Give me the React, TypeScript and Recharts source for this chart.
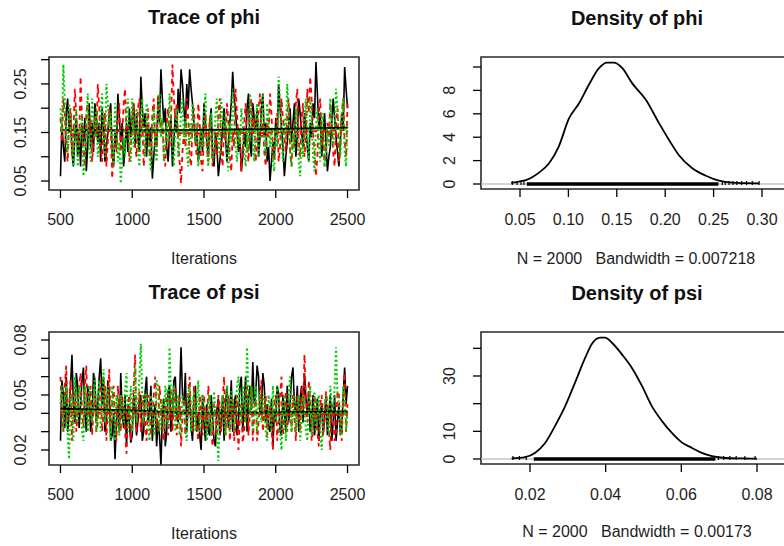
import React from 'react';
import { ComposedChart, Line, XAxis, YAxis, ReferenceArea, ReferenceLine, Scatter } from 'recharts';

const FONT = '"Liberation Sans", Arial, Helvetica, sans-serif';
const TXT = '#1e1e1e';

// ---------- trace data (main values every 20 iterations from 500; "Mid" values at 510, 530, ...) ----------
const ITER_START = 500;
const ITER_STEP = 10;

const phiChain1 = [
  0.06, 0.12, 0.19, 0.15, 0.11, 0.14, 0.10, 0.08, 0.13, 0.07,
  0.21, 0.17, 0.21, 0.13, 0.09, 0.16, 0.12, 0.19, 0.11, 0.15,
  0.23, 0.13, 0.08, 0.17, 0.20, 0.18, 0.12, 0.14, 0.265, 0.16,
  0.10, 0.13, 0.055, 0.14, 0.22, 0.28, 0.17, 0.12, 0.15, 0.08,
  0.19, 0.24, 0.28, 0.20, 0.25, 0.28, 0.21, 0.13, 0.09, 0.15,
  0.21, 0.13, 0.17, 0.10, 0.15, 0.06, 0.12, 0.20, 0.09, 0.17,
  0.275, 0.19, 0.11, 0.07, 0.15, 0.20, 0.13, 0.21, 0.16, 0.10,
  0.20, 0.14, 0.09, 0.05, 0.13, 0.18, 0.25, 0.16, 0.06, 0.13,
  0.20, 0.17, 0.10, 0.22, 0.15, 0.19, 0.12, 0.17, 0.21, 0.295,
  0.16, 0.10, 0.19, 0.07, 0.12, 0.22, 0.14, 0.08, 0.19, 0.285,
  0.20,
];
const phiChain1Mid = [
  0.17, 0.09, 0.22, 0.19, 0.08, 0.18, 0.15, 0.17, 0.18, 0.12,
  0.12, 0.11, 0.18, 0.17, 0.20, 0.09, 0.15, 0.21, 0.08, 0.12,
  0.18, 0.17, 0.12, 0.11, 0.14, 0.21, 0.19, 0.11, 0.20, 0.19,
  0.17, 0.16, 0.10, 0.12, 0.17, 0.22, 0.20, 0.09, 0.18, 0.13,
  0.15, 0.19, 0.25, 0.16, 0.20, 0.24, 0.17, 0.16, 0.12, 0.11,
  0.17, 0.10, 0.20, 0.08, 0.12, 0.09, 0.16, 0.14, 0.13, 0.21,
  0.22, 0.15, 0.14, 0.10, 0.12, 0.23, 0.10, 0.18, 0.20, 0.14,
  0.23, 0.17, 0.12, 0.09, 0.10, 0.14, 0.20, 0.12, 0.10, 0.17,
  0.13, 0.21, 0.14, 0.19, 0.12, 0.16, 0.09, 0.14, 0.18, 0.23,
  0.19, 0.15, 0.13, 0.10, 0.17, 0.18, 0.11, 0.13, 0.16, 0.24,
];
const phiChain2 = [
  0.18, 0.22, 0.12, 0.17, 0.10, 0.24, 0.14, 0.265, 0.11, 0.19,
  0.15, 0.09, 0.18, 0.25, 0.12, 0.16, 0.08, 0.20, 0.055, 0.14,
  0.18, 0.11, 0.21, 0.15, 0.09, 0.17, 0.12, 0.20, 0.14, 0.08,
  0.16, 0.11, 0.19, 0.13, 0.23, 0.15, 0.10, 0.17, 0.12, 0.29,
  0.18, 0.13, 0.045, 0.15, 0.22, 0.10, 0.17, 0.13, 0.21, 0.09,
  0.15, 0.12, 0.18, 0.08, 0.14, 0.19, 0.11, 0.16, 0.21, 0.10,
  0.15, 0.24, 0.13, 0.07, 0.17, 0.12, 0.19, 0.15, 0.09, 0.20,
  0.14, 0.11, 0.18, 0.23, 0.12, 0.16, 0.09, 0.22, 0.14, 0.19,
  0.11, 0.16, 0.21, 0.13, 0.18, 0.10, 0.24, 0.265, 0.15, 0.06,
  0.19, 0.12, 0.08, 0.17, 0.21, 0.11, 0.16, 0.09, 0.19, 0.13,
  0.21,
];
const phiChain2Mid = [
  0.13, 0.19, 0.09, 0.20, 0.15, 0.19, 0.12, 0.18, 0.08, 0.21,
  0.18, 0.13, 0.14, 0.20, 0.09, 0.19, 0.13, 0.16, 0.10, 0.11,
  0.21, 0.14, 0.24, 0.17, 0.12, 0.21, 0.10, 0.22, 0.18, 0.12,
  0.20, 0.09, 0.22, 0.11, 0.19, 0.18, 0.08, 0.20, 0.17, 0.22,
  0.21, 0.09, 0.11, 0.12, 0.18, 0.08, 0.20, 0.10, 0.17, 0.07,
  0.19, 0.09, 0.14, 0.11, 0.10, 0.22, 0.08, 0.13, 0.17, 0.07,
  0.12, 0.19, 0.16, 0.11, 0.21, 0.09, 0.22, 0.18, 0.13, 0.23,
  0.17, 0.08, 0.14, 0.19, 0.09, 0.19, 0.12, 0.18, 0.11, 0.22,
  0.08, 0.12, 0.24, 0.10, 0.21, 0.14, 0.19, 0.22, 0.11, 0.10,
  0.22, 0.15, 0.11, 0.13, 0.17, 0.08, 0.20, 0.12, 0.22, 0.10,
];
const phiChain3 = [
  0.20, 0.29, 0.14, 0.21, 0.11, 0.17, 0.08, 0.15, 0.06, 0.18,
  0.12, 0.22, 0.14, 0.10, 0.19, 0.13, 0.25, 0.16, 0.11, 0.21,
  0.09, 0.045, 0.14, 0.19, 0.12, 0.22, 0.16, 0.11, 0.18, 0.13,
  0.21, 0.10, 0.16, 0.12, 0.20, 0.14, 0.09, 0.17, 0.23, 0.12,
  0.16, 0.10, 0.19, 0.14, 0.11, 0.17, 0.21, 0.13, 0.08, 0.16,
  0.20, 0.11, 0.15, 0.09, 0.19, 0.13, 0.22, 0.14, 0.10, 0.17,
  0.24, 0.12, 0.16, 0.20, 0.11, 0.15, 0.23, 0.13, 0.17, 0.10,
  0.19, 0.14, 0.21, 0.12, 0.09, 0.16, 0.265, 0.13, 0.18, 0.25,
  0.11, 0.15, 0.20, 0.09, 0.14, 0.18, 0.12, 0.22, 0.10, 0.16,
  0.13, 0.19, 0.08, 0.15, 0.22, 0.12, 0.24, 0.14, 0.18, 0.11,
  0.17,
];
const phiChain3Mid = [
  0.15, 0.22, 0.11, 0.18, 0.08, 0.20, 0.12, 0.19, 0.10, 0.23,
  0.09, 0.18, 0.20, 0.13, 0.23, 0.10, 0.21, 0.19, 0.08, 0.16,
  0.13, 0.09, 0.10, 0.22, 0.09, 0.12, 0.20, 0.08, 0.22, 0.10,
  0.17, 0.07, 0.20, 0.09, 0.23, 0.18, 0.12, 0.13, 0.18, 0.08,
  0.20, 0.13, 0.22, 0.18, 0.08, 0.13, 0.17, 0.17, 0.11, 0.12,
  0.23, 0.08, 0.19, 0.12, 0.22, 0.10, 0.18, 0.19, 0.07, 0.13,
  0.19, 0.09, 0.12, 0.17, 0.08, 0.11, 0.19, 0.09, 0.21, 0.13,
  0.23, 0.10, 0.18, 0.16, 0.07, 0.12, 0.21, 0.09, 0.14, 0.19,
  0.08, 0.11, 0.16, 0.06, 0.10, 0.22, 0.09, 0.18, 0.07, 0.20,
  0.09, 0.17, 0.11, 0.12, 0.18, 0.16, 0.20, 0.10, 0.22, 0.08,
];

const psiChain1 = [
  0.025, 0.05, 0.06, 0.04, 0.072, 0.035, 0.055, 0.045, 0.065, 0.03,
  0.05, 0.038, 0.058, 0.045, 0.07, 0.06, 0.035, 0.05, 0.028, 0.015,
  0.045, 0.062, 0.032, 0.022, 0.035, 0.028, 0.042, 0.036, 0.05, 0.03,
  0.06, 0.04, 0.025, 0.045, 0.035, 0.012, 0.048, 0.03, 0.055, 0.04,
  0.06, 0.035, 0.076, 0.045, 0.03, 0.05, 0.025, 0.055, 0.04, 0.02,
  0.035, 0.045, 0.028, 0.038, 0.022, 0.048, 0.035, 0.025, 0.055, 0.04,
  0.03, 0.05, 0.035, 0.06, 0.045, 0.03, 0.055, 0.068, 0.05, 0.06,
  0.04, 0.055, 0.045, 0.03, 0.022, 0.035, 0.05, 0.028, 0.04, 0.055,
  0.045, 0.065, 0.04, 0.03, 0.055, 0.062, 0.04, 0.03, 0.05, 0.035,
  0.025, 0.045, 0.038, 0.028, 0.05, 0.035, 0.025, 0.045, 0.032, 0.065,
  0.055,
];
const psiChain1Mid = [
  0.058, 0.032, 0.03, 0.055, 0.045, 0.062, 0.032, 0.058, 0.04, 0.055,
  0.03, 0.062, 0.035, 0.06, 0.045, 0.03, 0.058, 0.025, 0.04, 0.035,
  0.03, 0.04, 0.05, 0.045, 0.024, 0.05, 0.028, 0.048, 0.025, 0.052,
  0.035, 0.055, 0.04, 0.022, 0.028, 0.038, 0.022, 0.052, 0.03, 0.058,
  0.04, 0.05, 0.05, 0.062, 0.045, 0.032, 0.048, 0.03, 0.028, 0.05,
  0.025, 0.03, 0.05, 0.025, 0.042, 0.028, 0.05, 0.045, 0.032, 0.058,
  0.045, 0.028, 0.055, 0.03, 0.06, 0.048, 0.042, 0.045, 0.066, 0.04,
  0.062, 0.035, 0.032, 0.048, 0.04, 0.055, 0.03, 0.05, 0.03, 0.035,
  0.06, 0.045, 0.055, 0.048, 0.035, 0.048, 0.052, 0.035, 0.028, 0.048,
  0.04, 0.028, 0.05, 0.04, 0.025, 0.05, 0.035, 0.028, 0.05, 0.045,
];
const psiChain2 = [
  0.06, 0.03, 0.066, 0.045, 0.025, 0.055, 0.04, 0.062, 0.032, 0.066,
  0.045, 0.028, 0.05, 0.035, 0.058, 0.04, 0.025, 0.064, 0.045, 0.035,
  0.055, 0.03, 0.04, 0.018, 0.05, 0.035, 0.072, 0.04, 0.03, 0.05,
  0.025, 0.045, 0.035, 0.06, 0.03, 0.045, 0.025, 0.05, 0.038, 0.03,
  0.055, 0.04, 0.022, 0.048, 0.035, 0.06, 0.03, 0.045, 0.025, 0.04,
  0.05, 0.03, 0.045, 0.022, 0.038, 0.05, 0.03, 0.06, 0.04, 0.025,
  0.048, 0.035, 0.02, 0.045, 0.03, 0.055, 0.04, 0.025, 0.05, 0.035,
  0.058, 0.04, 0.028, 0.045, 0.02, 0.05, 0.035, 0.06, 0.04, 0.03,
  0.045, 0.05, 0.025, 0.04, 0.055, 0.072, 0.035, 0.048, 0.03, 0.04,
  0.022, 0.05, 0.035, 0.045, 0.02, 0.04, 0.03, 0.05, 0.025, 0.062,
  0.045,
];
const psiChain2Mid = [
  0.04, 0.055, 0.035, 0.058, 0.045, 0.03, 0.055, 0.042, 0.055, 0.035,
  0.055, 0.042, 0.03, 0.05, 0.03, 0.055, 0.045, 0.032, 0.055, 0.025,
  0.04, 0.05, 0.03, 0.045, 0.025, 0.055, 0.03, 0.052, 0.04, 0.035,
  0.05, 0.028, 0.05, 0.04, 0.055, 0.032, 0.045, 0.028, 0.052, 0.045,
  0.028, 0.05, 0.038, 0.028, 0.05, 0.038, 0.055, 0.032, 0.05, 0.028,
  0.038, 0.055, 0.03, 0.045, 0.028, 0.042, 0.048, 0.028, 0.05, 0.042,
  0.025, 0.05, 0.038, 0.024, 0.05, 0.028, 0.055, 0.038, 0.025, 0.046,
  0.03, 0.05, 0.038, 0.032, 0.045, 0.025, 0.05, 0.028, 0.052, 0.04,
  0.03, 0.038, 0.05, 0.03, 0.042, 0.048, 0.058, 0.025, 0.05, 0.03,
  0.045, 0.028, 0.052, 0.03, 0.045, 0.025, 0.052, 0.035, 0.05, 0.03,
];
const psiChain3 = [
  0.045, 0.03, 0.055, 0.015, 0.04, 0.06, 0.035, 0.05, 0.025, 0.045,
  0.055, 0.035, 0.06, 0.04, 0.03, 0.064, 0.045, 0.035, 0.055, 0.025,
  0.04, 0.05, 0.035, 0.062, 0.04, 0.03, 0.066, 0.045, 0.078, 0.035,
  0.05, 0.025, 0.045, 0.035, 0.055, 0.04, 0.03, 0.05, 0.076, 0.04,
  0.03, 0.05, 0.035, 0.045, 0.025, 0.055, 0.04, 0.03, 0.058, 0.035,
  0.045, 0.025, 0.05, 0.035, 0.04, 0.014, 0.045, 0.035, 0.055, 0.03,
  0.045, 0.038, 0.06, 0.035, 0.05, 0.076, 0.04, 0.03, 0.055, 0.045,
  0.035, 0.05, 0.025, 0.04, 0.055, 0.035, 0.045, 0.02, 0.05, 0.035,
  0.06, 0.04, 0.03, 0.05, 0.035, 0.045, 0.025, 0.055, 0.04, 0.03,
  0.05, 0.02, 0.045, 0.035, 0.055, 0.04, 0.076, 0.045, 0.03, 0.05,
  0.04,
];
const psiChain3Mid = [
  0.055, 0.045, 0.028, 0.05, 0.025, 0.042, 0.055, 0.03, 0.055, 0.03,
  0.04, 0.05, 0.03, 0.058, 0.045, 0.035, 0.055, 0.025, 0.045, 0.05,
  0.028, 0.04, 0.052, 0.03, 0.055, 0.042, 0.035, 0.06, 0.045, 0.05,
  0.035, 0.05, 0.028, 0.058, 0.03, 0.048, 0.055, 0.032, 0.05, 0.055,
  0.045, 0.028, 0.05, 0.03, 0.05, 0.03, 0.052, 0.045, 0.03, 0.05,
  0.035, 0.045, 0.028, 0.052, 0.028, 0.035, 0.05, 0.028, 0.042, 0.052,
  0.03, 0.055, 0.04, 0.055, 0.035, 0.05, 0.055, 0.045, 0.03, 0.052,
  0.045, 0.03, 0.05, 0.03, 0.04, 0.055, 0.03, 0.045, 0.025, 0.052,
  0.03, 0.05, 0.045, 0.025, 0.05, 0.03, 0.045, 0.028, 0.052, 0.045,
  0.03, 0.038, 0.05, 0.028, 0.045, 0.055, 0.05, 0.028, 0.055, 0.03,
];

// smoothed (lowess) lines
const smoothIters = [500, 1000, 1500, 2000, 2500];
const phiSmooth1 = [0.155, 0.154, 0.155, 0.157, 0.160];
const phiSmooth2 = [0.155, 0.152, 0.148, 0.150, 0.155];
const phiSmooth3 = [0.156, 0.153, 0.152, 0.154, 0.157];
const psiSmooth1 = [0.0425, 0.0415, 0.0400, 0.0405, 0.0410];
const psiSmooth2 = [0.0410, 0.0400, 0.0395, 0.0395, 0.0395];
const psiSmooth3 = [0.0415, 0.0410, 0.0400, 0.0400, 0.0405];

// ---------- density data ----------
const phiDensX = [0.041, 0.050, 0.056, 0.063, 0.0696, 0.080, 0.090, 0.1006, 0.111, 0.121, 0.1316, 0.140, 0.147, 0.1557, 0.166, 0.180, 0.1936, 0.204, 0.214, 0.228, 0.242, 0.2556, 0.269, 0.283, 0.297];
const phiDensY = [0.1, 0.22, 0.34, 0.6, 0.97, 1.77, 3.2, 5.6, 6.9, 8.46, 9.9, 10.37, 10.37, 9.9, 8.6, 7.2, 5.2, 3.76, 2.48, 1.34, 0.71, 0.28, 0.11, 0.07, 0.05];
const phiRugBand = [0.057, 0.255];
const phiRugTail = [0.042, 0.047, 0.051, 0.054, 0.259, 0.262, 0.266, 0.27, 0.274, 0.279, 0.284, 0.29, 0.297];

const psiDensX = [0.01515, 0.0187, 0.0213, 0.024, 0.0266, 0.0293, 0.0319, 0.0346, 0.0363, 0.0385, 0.0399, 0.0416, 0.0443, 0.0469, 0.0496, 0.0522, 0.0549, 0.0575, 0.0601, 0.0628, 0.0654, 0.0681, 0.0716, 0.076, 0.080];
const psiDensY = [0.24, 0.7, 2.2, 5.8, 11.9, 19.1, 27.6, 36.6, 41.5, 43.9, 43.9, 42.1, 37.8, 33.0, 26.4, 19.1, 13.7, 9.4, 6.0, 4.0, 2.2, 1.0, 0.36, 0.2, 0.1];
const psiRugBand = [0.021, 0.069];
const psiRugTail = [0.0155, 0.0172, 0.019, 0.0698, 0.0712, 0.0728, 0.0745, 0.0768, 0.0795];

// ---------- ticks ----------
const traceXTicks = [500, 1000, 1500, 2000, 2500];
const phiTraceYTicks = [0.05, 0.10, 0.15, 0.20, 0.25, 0.30];
const phiTraceYLabels = [0.05, 0.15, 0.25];
const psiTraceYTicks = [0.02, 0.03, 0.04, 0.05, 0.06, 0.07, 0.08];
const psiTraceYLabels = [0.02, 0.05, 0.08];
const phiDensXTicks = [0.05, 0.10, 0.15, 0.20, 0.25, 0.30];
const phiDensYTicks = [0, 2, 4, 6, 8, 10];
const phiDensYLabels = [0, 2, 4, 6, 8];
const psiDensXTicks = [0.02, 0.04, 0.06, 0.08];
const psiDensYTicks = [0, 10, 20, 30, 40];
const psiDensYLabels = [0, 10, 30];

const titles = ['Trace of phi', 'Density of phi', 'Trace of psi', 'Density of psi'];
const xLabels = ['Iterations', 'N = 2000   Bandwidth = 0.007218', 'Iterations', 'N = 2000   Bandwidth = 0.00173'];

// ---------- helpers ----------
const tracePts = (main: number[], mid: number[]) =>
  main
    .flatMap((v, i) => (i < mid.length ? [v, mid[i]] : [v]))
    .map((y, i) => ({ x: ITER_START + i * ITER_STEP, y }));
const smoothPts = (vals: number[]) => vals.map((y, i) => ({ x: smoothIters[i], y }));
const zipPts = (xs: number[], ys: number[]) => xs.map((x, i) => ({ x, y: ys[i] }));
const rugPts = (xs: number[]) => xs.map((x) => ({ x, y: 0 }));

const has = (arr: number[], v: number) => arr.some((a) => Math.abs(a - v) < 1e-9);

type PanelProps = {
  left: number; top: number; width: number; height: number;
  box: [number, number, number, number];
  xDomain: [number, number]; yDomain: [number, number];
  xTicks: number[]; yTicks: number[]; yLabels: number[];
  fmtX: (v: number) => string; fmtY: (v: number) => string;
  xTickBase: number; yTickBase: number;
  children: React.ReactNode;
};

function Panel(p: PanelProps) {
  const [bx0, by0, bx1, by1] = p.box;
  const xAxisH = 30;
  const margin = {
    top: by0 - p.top,
    left: 0,
    right: p.left + p.width - bx1,
    bottom: p.top + p.height - by1 - xAxisH,
  };
  const xTickBase = p.xTickBase - p.top;
  const yTickBase = p.yTickBase - p.left;
  const XTick = (props: any) => {
    const v = props.payload.value;
    return (
      <text x={props.x} y={xTickBase} textAnchor="middle" fontSize={16} fontFamily={FONT} fill={TXT}>
        {p.fmtX(v)}
      </text>
    );
  };
  const YTick = (props: any) => {
    const v = props.payload.value;
    if (!has(p.yLabels, v)) return <g />;
    return (
      <text
        x={yTickBase}
        y={props.y}
        transform={`rotate(-90, ${yTickBase}, ${props.y})`}
        textAnchor="middle"
        fontSize={16}
        fontFamily={FONT}
        fill={TXT}
      >
        {p.fmtY(v)}
      </text>
    );
  };
  return (
    <div style={{ position: 'absolute', left: p.left, top: p.top, width: p.width, height: p.height }}>
      <ComposedChart width={p.width} height={p.height} margin={margin}>
        <XAxis
          type="number"
          dataKey="x"
          domain={p.xDomain}
          allowDataOverflow
          ticks={p.xTicks}
          interval={0}
          height={xAxisH}
          axisLine={false}
          tickSize={8}
          tickLine={{ stroke: '#000', strokeWidth: 1.3 }}
          tick={XTick}
        />
        <YAxis
          type="number"
          dataKey="y"
          domain={p.yDomain}
          allowDataOverflow
          ticks={p.yTicks}
          interval={0}
          width={bx0 - p.left}
          axisLine={false}
          tickSize={8}
          tickLine={{ stroke: '#000', strokeWidth: 1.3 }}
          tick={YTick}
        />
        {p.children}
        <ReferenceArea
          x1={p.xDomain[0]}
          x2={p.xDomain[1]}
          y1={p.yDomain[0]}
          y2={p.yDomain[1]}
          fill="none"
          fillOpacity={0}
          stroke="#2a2a2a"
          strokeWidth={1.6}
          ifOverflow="visible"
        />
      </ComposedChart>
    </div>
  );
}

const BLACK = '#000000';
const RED = '#ff0000';
const GREEN = '#00cd00';

function traceSeries(
  c1: number[], m1: number[], c2: number[], m2: number[], c3: number[], m3: number[],
  s1: number[], s2: number[], s3: number[],
) {
  return [
    <Line key="c1" data={tracePts(c1, m1)} dataKey="y" stroke={BLACK} strokeWidth={1.6} dot={false} activeDot={false} isAnimationActive={false} type="linear" />,
    <Line key="c2" data={tracePts(c2, m2)} dataKey="y" stroke={RED} strokeWidth={1.8} strokeDasharray="5 4" dot={false} activeDot={false} isAnimationActive={false} type="linear" />,
    <Line key="c3" data={tracePts(c3, m3)} dataKey="y" stroke={GREEN} strokeWidth={2} strokeDasharray="2 2.5" dot={false} activeDot={false} isAnimationActive={false} type="linear" />,
    <Line key="s1" data={smoothPts(s1)} dataKey="y" stroke={BLACK} strokeWidth={2} dot={false} activeDot={false} isAnimationActive={false} type="monotone" />,
    <Line key="s2" data={smoothPts(s2)} dataKey="y" stroke={RED} strokeWidth={1.8} strokeDasharray="5 4" dot={false} activeDot={false} isAnimationActive={false} type="monotone" />,
    <Line key="s3" data={smoothPts(s3)} dataKey="y" stroke={GREEN} strokeWidth={2} strokeDasharray="2 2.5" dot={false} activeDot={false} isAnimationActive={false} type="monotone" />,
  ];
}

const RugTick = (props: any) => {
  const { cx, cy } = props;
  if (cx == null || cy == null) return <g />;
  return <line x1={cx} x2={cx} y1={cy - 3} y2={cy + 1} stroke="#000" strokeWidth={1.2} />;
};

function densitySeries(dx: number[], dy: number[], band: number[], tail: number[]) {
  return [
    <ReferenceLine key="zero" y={0} stroke="#c4c4c4" strokeWidth={1.5} ifOverflow="visible" />,
    <Line key="band" data={rugPts(band)} dataKey="y" stroke="#000" strokeWidth={3.5} dot={false} activeDot={false} isAnimationActive={false} type="linear" />,
    <Scatter key="tail" data={rugPts(tail)} dataKey="y" shape={RugTick} isAnimationActive={false} />,
    <Line key="dens" data={zipPts(dx, dy)} dataKey="y" stroke="#000" strokeWidth={1.8} dot={false} activeDot={false} isAnimationActive={false} type="monotone" />,
  ];
}

const Titles = () => {
  const tpos = [[204, 24], [637, 25], [204, 299], [637, 300]];
  const xpos = [[204, 264], [636, 264], [204, 539], [637, 537]];
  return (
    <svg width={784} height={546} style={{ position: 'absolute', left: 0, top: 0, pointerEvents: 'none' }}>
      {titles.map((t, i) => (
        <text key={'t' + i} x={tpos[i][0]} y={tpos[i][1]} textAnchor="middle" fontSize={20} fontWeight="bold" fontFamily={FONT} fill="#111">
          {t}
        </text>
      ))}
      {xLabels.map((t, i) => (
        <text key={'x' + i} x={xpos[i][0]} y={xpos[i][1]} textAnchor="middle" fontSize={16} fontFamily={FONT} fill={TXT} style={{ whiteSpace: 'pre' }}>
          {t}
        </text>
      ))}
    </svg>
  );
};

export default function App() {
  return (
    <div style={{ position: 'fixed', left: 0, top: 0, width: 784, height: 546, overflow: 'hidden', background: '#fff' }}>
      <Panel
        left={0} top={0} width={392} height={273}
        box={[49, 57, 359, 190]}
        xDomain={[420, 2580]} yDomain={[0.0315, 0.3055]}
        xTicks={traceXTicks} yTicks={phiTraceYTicks} yLabels={phiTraceYLabels}
        fmtX={(v) => String(v)} fmtY={(v) => v.toFixed(2)}
        xTickBase={225} yTickBase={26}
      >
        {traceSeries(phiChain1, phiChain1Mid, phiChain2, phiChain2Mid, phiChain3, phiChain3Mid, phiSmooth1, phiSmooth2, phiSmooth3)}
      </Panel>
      <Panel
        left={392} top={0} width={420} height={273}
        box={[481, 57, 792, 189]}
        xDomain={[0.0097, 0.331]} yDomain={[-0.427, 10.855]}
        xTicks={phiDensXTicks} yTicks={phiDensYTicks} yLabels={phiDensYLabels}
        fmtX={(v) => v.toFixed(2)} fmtY={(v) => String(v)}
        xTickBase={225} yTickBase={455}
      >
        {densitySeries(phiDensX, phiDensY, phiRugBand, phiRugTail)}
      </Panel>
      <Panel
        left={0} top={273} width={392} height={273}
        box={[49, 332, 359, 465]}
        xDomain={[420, 2580]} yDomain={[0.01182, 0.08436]}
        xTicks={traceXTicks} yTicks={psiTraceYTicks} yLabels={psiTraceYLabels}
        fmtX={(v) => String(v)} fmtY={(v) => v.toFixed(2)}
        xTickBase={500} yTickBase={26}
      >
        {traceSeries(psiChain1, psiChain1Mid, psiChain2, psiChain2Mid, psiChain3, psiChain3Mid, psiSmooth1, psiSmooth2, psiSmooth3)}
      </Panel>
      <Panel
        left={392} top={273} width={420} height={273}
        box={[481, 332, 792, 464]}
        xDomain={[0.00705, 0.08925]} yDomain={[-1.81, 45.9]}
        xTicks={psiDensXTicks} yTicks={psiDensYTicks} yLabels={psiDensYLabels}
        fmtX={(v) => v.toFixed(2)} fmtY={(v) => String(v)}
        xTickBase={500} yTickBase={455}
      >
        {densitySeries(psiDensX, psiDensY, psiRugBand, psiRugTail)}
      </Panel>
      <Titles />
    </div>
  );
}
